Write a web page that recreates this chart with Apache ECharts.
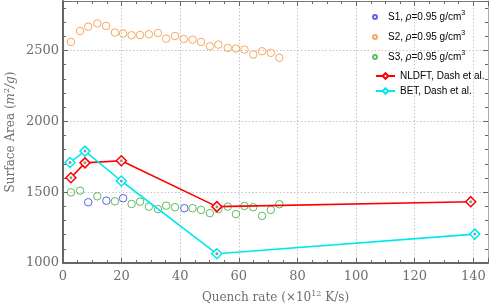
<!DOCTYPE html>
<html>
<head>
<meta charset="utf-8">
<script src="https://cdn.jsdelivr.net/npm/echarts@6/dist/echarts.min.js"></script>
<style>html,body{margin:0;padding:0;background:#fff}#c{width:491px;height:308px}</style>
</head>
<body>
<div id="c"></div>
<script>
// Data
const s1X = [8.6, 14.8, 20.5, 41.4];
const s1Y = [1429, 1440, 1457, 1387];
const s2X = [2.7, 5.8, 8.6, 11.7, 14.7, 17.7, 20.5, 23.4, 26.3, 29.3, 32.4, 35.2, 38.2, 41.2, 44.2, 47.1, 50.1, 53.0, 56.2, 59.0, 61.9, 64.9, 67.9, 70.9, 73.8];
const s2Y = [2561, 2638, 2669, 2692, 2674, 2627, 2620, 2608, 2610, 2615, 2624, 2584, 2603, 2582, 2577, 2561, 2530, 2542, 2519, 2514, 2507, 2472, 2495, 2484, 2449];
const s3X = [2.7, 5.8, 11.7, 17.7, 23.4, 26.3, 29.3, 32.4, 35.2, 38.2, 44.2, 47.1, 50.1, 53.0, 56.2, 59.0, 61.9, 64.9, 67.9, 70.9, 73.8];
const s3Y = [1499, 1511, 1471, 1436, 1417, 1433, 1398, 1380, 1405, 1394, 1387, 1375, 1352, 1380, 1398, 1345, 1403, 1394, 1333, 1375, 1415];
const nldftX = [2.7, 7.5, 19.9, 52.5, 139.1];
const nldftY = [1602, 1707, 1722, 1398, 1433];
const betX = [2.4, 7.5, 19.9, 52.5, 140.5];
const betY = [1710, 1790, 1579, 1065, 1204];
const xTicks = [0, 20, 40, 60, 80, 100, 120, 140];
const yTicks = [1000, 1500, 2000, 2500];

const zip = (a, b) => a.map((v, i) => [v, b[i]]);
const serif = 'DejaVu Serif';
const labCol = '#6e6e6e';

const chart = echarts.init(document.getElementById('c'), null, {renderer: 'canvas'});

const circ = (name, x, y, col) => ({
  name, type: 'scatter', data: zip(x, y), symbol: 'circle', symbolSize: 7.5,
  itemStyle: {color: 'rgba(255,255,255,0)', borderColor: col, borderWidth: 1}, z: 2
});
const lineS = (name, x, y, col) => ({
  name, type: 'line', data: zip(x, y), symbol: 'diamond', symbolSize: 10,
  lineStyle: {color: col, width: 1.6}, itemStyle: {color: '#fff', borderColor: col, borderWidth: 1.5},
  z: 3
});
const dots = (x, y) => ({
  type: 'scatter', data: zip(x, y), symbol: 'circle', symbolSize: 3,
  itemStyle: {color: '#7a7a7a'}, z: 4, silent: true
});

const legendFmt = function (name) {
  if (name.startsWith('S')) {
    return '{a|' + name.slice(0, 2) + ', }{i|ρ}{a|=0.95 g/cm}{s|3}';
  }
  return '{a|' + name + '}';
};
const legendRich = {
  a: {fontFamily: 'Liberation Sans', fontSize: 10, color: '#000'},
  i: {fontFamily: 'Liberation Sans', fontSize: 10, fontStyle: 'italic', color: '#000'},
  s: {fontFamily: 'Liberation Sans', fontSize: 7, color: '#000', verticalAlign: 'bottom', padding: [0, 0, 7, 0]}
};

const hideNon = (ticks) => (v) => ticks.indexOf(v) >= 0 ? String(v) : '';

chart.setOption({
  animation: false,
  backgroundColor: '#fff',
  grid: {left: 63, right: 3, top: 1, bottom: 45, containLabel: false, outerBoundsMode: 'none'},
  legend: [
    {
      data: ['S1', 'S2', 'S3'], orient: 'vertical', left: 367, top: 5,
      itemWidth: 16, itemHeight: 4, itemGap: 8, formatter: legendFmt,
      textStyle: {rich: legendRich, fontSize: 10}
    },
    {
      data: ['NLDFT, Dash et al.', 'BET, Dash et al.'], orient: 'vertical', left: 370, top: 66,
      itemWidth: 19, itemHeight: 7, itemGap: 5, formatter: legendFmt,
      textStyle: {rich: legendRich, fontSize: 10}
    }
  ],
  xAxis: [
    {
      type: 'value', min: 0, max: 145, interval: 20, position: 'bottom',
      name: 'Quench rate (×10{sup|12} K/s)', nameLocation: 'middle', nameGap: 27, nameMoveOverlap: false,
      nameTextStyle: {fontFamily: serif, fontSize: 12, color: labCol,
        rich: {sup: {fontFamily: serif, fontSize: 8, color: labCol, verticalAlign: 'bottom', padding: [0, 0, 7, 0]}}},
      axisLine: {show: true, onZero: false, lineStyle: {color: '#666', width: 2}},
      axisTick: {show: true, inside: true, length: 5, lineStyle: {color: '#666'}},
      minorTick: {show: true, splitNumber: 4, length: 3, lineStyle: {color: '#666'}},
      axisLabel: {formatter: hideNon(xTicks), fontFamily: serif, fontSize: 13, color: labCol, margin: 7},
      splitLine: {show: true, lineStyle: {color: '#c4c4c4', type: [1.5, 2], width: 1}}
    },
    {
      type: 'value', min: 0, max: 145, interval: 20, position: 'top',
      axisLine: {show: true, onZero: false, lineStyle: {color: '#777', width: 1.2}},
      axisTick: {show: true, inside: true, length: 5, lineStyle: {color: '#666'}},
      minorTick: {show: true, splitNumber: 4, length: 3, lineStyle: {color: '#666'}},
      axisLabel: {show: false}, splitLine: {show: false}
    }
  ],
  yAxis: [
    {
      type: 'value', min: 1000, max: 2850, interval: 500, position: 'left',
      name: 'Surface Area ({i|m}{sup|2}{i|/g})', nameLocation: 'middle', nameGap: 45, nameRotate: 90,
      nameMoveOverlap: false,
      nameTextStyle: {fontFamily: serif, fontSize: 12, color: labCol,
        rich: {i: {fontFamily: serif, fontSize: 12, fontStyle: 'italic', color: labCol},
               sup: {fontFamily: serif, fontSize: 8, color: labCol, verticalAlign: 'bottom', padding: [0, 0, 7, 0]}}},
      axisLine: {show: true, onZero: false, lineStyle: {color: '#666', width: 2}},
      axisTick: {show: true, inside: true, length: 5, lineStyle: {color: '#666'}},
      minorTick: {show: true, splitNumber: 5, length: 3, lineStyle: {color: '#666'}},
      axisLabel: {formatter: hideNon(yTicks), fontFamily: serif, fontSize: 13, color: labCol, margin: 4},
      splitLine: {show: true, lineStyle: {color: '#c4c4c4', type: [1.5, 2], width: 1}}
    },
    {
      type: 'value', min: 1000, max: 2850, interval: 500, position: 'right',
      axisLine: {show: true, onZero: false, lineStyle: {color: '#aaa', width: 1}},
      axisTick: {show: true, inside: true, length: 5, lineStyle: {color: '#666'}},
      minorTick: {show: true, splitNumber: 5, length: 3, lineStyle: {color: '#666'}},
      axisLabel: {show: false}, splitLine: {show: false}
    }
  ],
  series: [
    circ('S1', s1X, s1Y, '#3a3aee'),
    circ('S2', s2X, s2Y, '#f5933a'),
    circ('S3', s3X, s3Y, '#3aaa3a'),
    lineS('NLDFT, Dash et al.', nldftX, nldftY, '#ff0000'),
    lineS('BET, Dash et al.', betX, betY, '#00e8ee'),
    dots(nldftX, nldftY),
    dots(betX, betY)
  ]
});
</script>
</body>
</html>
